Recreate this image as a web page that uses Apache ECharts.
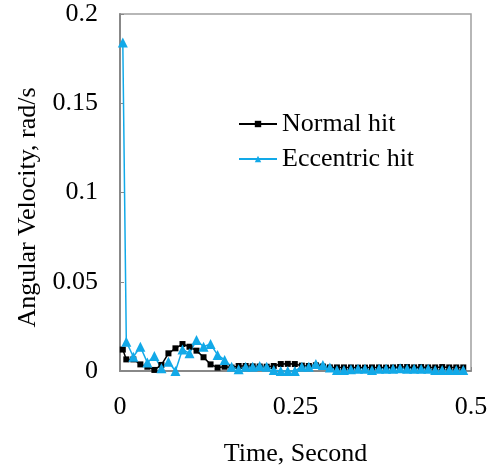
<!DOCTYPE html>
<html>
<head>
<meta charset="utf-8">
<script src="https://cdn.jsdelivr.net/npm/echarts@6/dist/echarts.min.js"></script>
<style>
  html, body { margin: 0; padding: 0; background: #fff; }
  #main { width: 499px; height: 468px; }
</style>
</head>
<body>
<div id="main"></div>
<script>
// time (s)
var times = [0.004, 0.009, 0.019, 0.029, 0.039, 0.049, 0.059, 0.069, 0.079, 0.089,
  0.099, 0.109, 0.119, 0.129, 0.139, 0.149, 0.159, 0.169, 0.179, 0.189,
  0.199, 0.209, 0.219, 0.229, 0.239, 0.249, 0.259, 0.269, 0.279, 0.289,
  0.299, 0.309, 0.319, 0.329, 0.339, 0.349, 0.359, 0.369, 0.379, 0.389,
  0.399, 0.409, 0.419, 0.429, 0.439, 0.449, 0.459, 0.469, 0.479, 0.489];

// angular velocity, rad/s
var normalHit = [0.012, 0.0065, 0.0065, 0.0037, 0.0024, 0.0006, 0.0034, 0.0099, 0.0127, 0.0151,
  0.0136, 0.0114, 0.0077, 0.0037, 0.0019, 0.0024, 0.0019, 0.0028, 0.0028, 0.0026,
  0.0025, 0.0024, 0.0028, 0.0039, 0.004, 0.0039, 0.003, 0.0028, 0.0032, 0.0025,
  0.002, 0.002, 0.002, 0.002, 0.0019, 0.0019, 0.002, 0.002, 0.0019, 0.002,
  0.0022, 0.0022, 0.002, 0.0022, 0.002, 0.002, 0.0022, 0.002, 0.002, 0.002];

var eccentricHit = [0.184, 0.0164, 0.008, 0.0136, 0.0047, 0.0084, 0.0015, 0.0052, 0.0, 0.0121,
  0.0099, 0.0174, 0.0136, 0.0151, 0.009, 0.0062, 0.0024, 0.001, 0.0024, 0.0024,
  0.0028, 0.0024, 0.0006, 0.0, 0.0, 0.0, 0.0024, 0.0024, 0.0039, 0.0033,
  0.002, 0.0006, 0.0006, 0.001, 0.0012, 0.0012, 0.0006, 0.0012, 0.0012, 0.0012,
  0.0015, 0.0012, 0.0012, 0.0012, 0.0012, 0.0006, 0.0006, 0.0006, 0.0006, 0.0006];

var xTicks = [0, 0.25, 0.5];
var yTicks = [0, 0.05, 0.1, 0.15, 0.2];

var font = '"Liberation Serif", "Times New Roman", serif';

function pairs(vals) {
  return times.map(function (t, i) { return [t, vals[i]]; });
}

var chart = echarts.init(document.getElementById('main'));

chart.setOption({
  animation: false,
  backgroundColor: '#fff',
  textStyle: { fontFamily: font },
  grid: {
    left: 120, top: 14, right: 28, bottom: 97,
    outerBoundsMode: 'none', containLabel: false,
    show: true, borderColor: '#a0a0a0', borderWidth: 1.5
  },
  legend: {
    left: 233, top: 106, orient: 'vertical',
    itemWidth: 38, itemHeight: 8, itemGap: 9,
    textStyle: { fontFamily: font, fontSize: 26, color: '#000' },
    data: ['Normal hit', 'Eccentric hit']
  },
  xAxis: {
    type: 'value', min: 0, max: 0.5, interval: 0.25,
    name: 'Time, Second', nameLocation: 'middle', nameGap: 70,
    nameTextStyle: { fontFamily: font, fontSize: 26, color: '#000' },
    axisLine: { show: true, lineStyle: { color: '#888', width: 2 } },
    axisTick: { show: true, inside: true, length: 4, lineStyle: { color: '#888' } },
    axisLabel: {
      margin: 23, fontFamily: font, fontSize: 26, color: '#000',
      formatter: function (v) { return xTicks.indexOf(v) >= 0 ? String(v) : ''; }
    },
    splitLine: { show: false }
  },
  yAxis: {
    type: 'value', min: 0, max: 0.2, interval: 0.05,
    name: 'Angular Velocity, rad/s', nameLocation: 'middle', nameGap: 78,
    nameTextStyle: { fontFamily: font, fontSize: 26, color: '#000', padding: [0, 30, 0, 0] },
    axisLine: { show: true, lineStyle: { color: '#888', width: 2 } },
    axisTick: { show: true, inside: true, length: 4, lineStyle: { color: '#888' } },
    axisLabel: {
      margin: 22, fontFamily: font, fontSize: 26, color: '#000',
      formatter: function (v) { return yTicks.indexOf(v) >= 0 ? String(v) : ''; }
    },
    splitLine: { show: false }
  },
  series: [
    {
      name: 'Normal hit', type: 'line', data: pairs(normalHit),
      symbol: 'rect', symbolSize: 6,
      lineStyle: { color: '#000', width: 1.5 },
      itemStyle: { color: '#000' }
    },
    {
      name: 'Eccentric hit', type: 'line', data: pairs(eccentricHit),
      symbol: 'triangle', symbolSize: 10,
      lineStyle: { color: '#12a9e8', width: 1.5 },
      itemStyle: { color: '#12a9e8' }
    }
  ]
});
</script>
</body>
</html>
